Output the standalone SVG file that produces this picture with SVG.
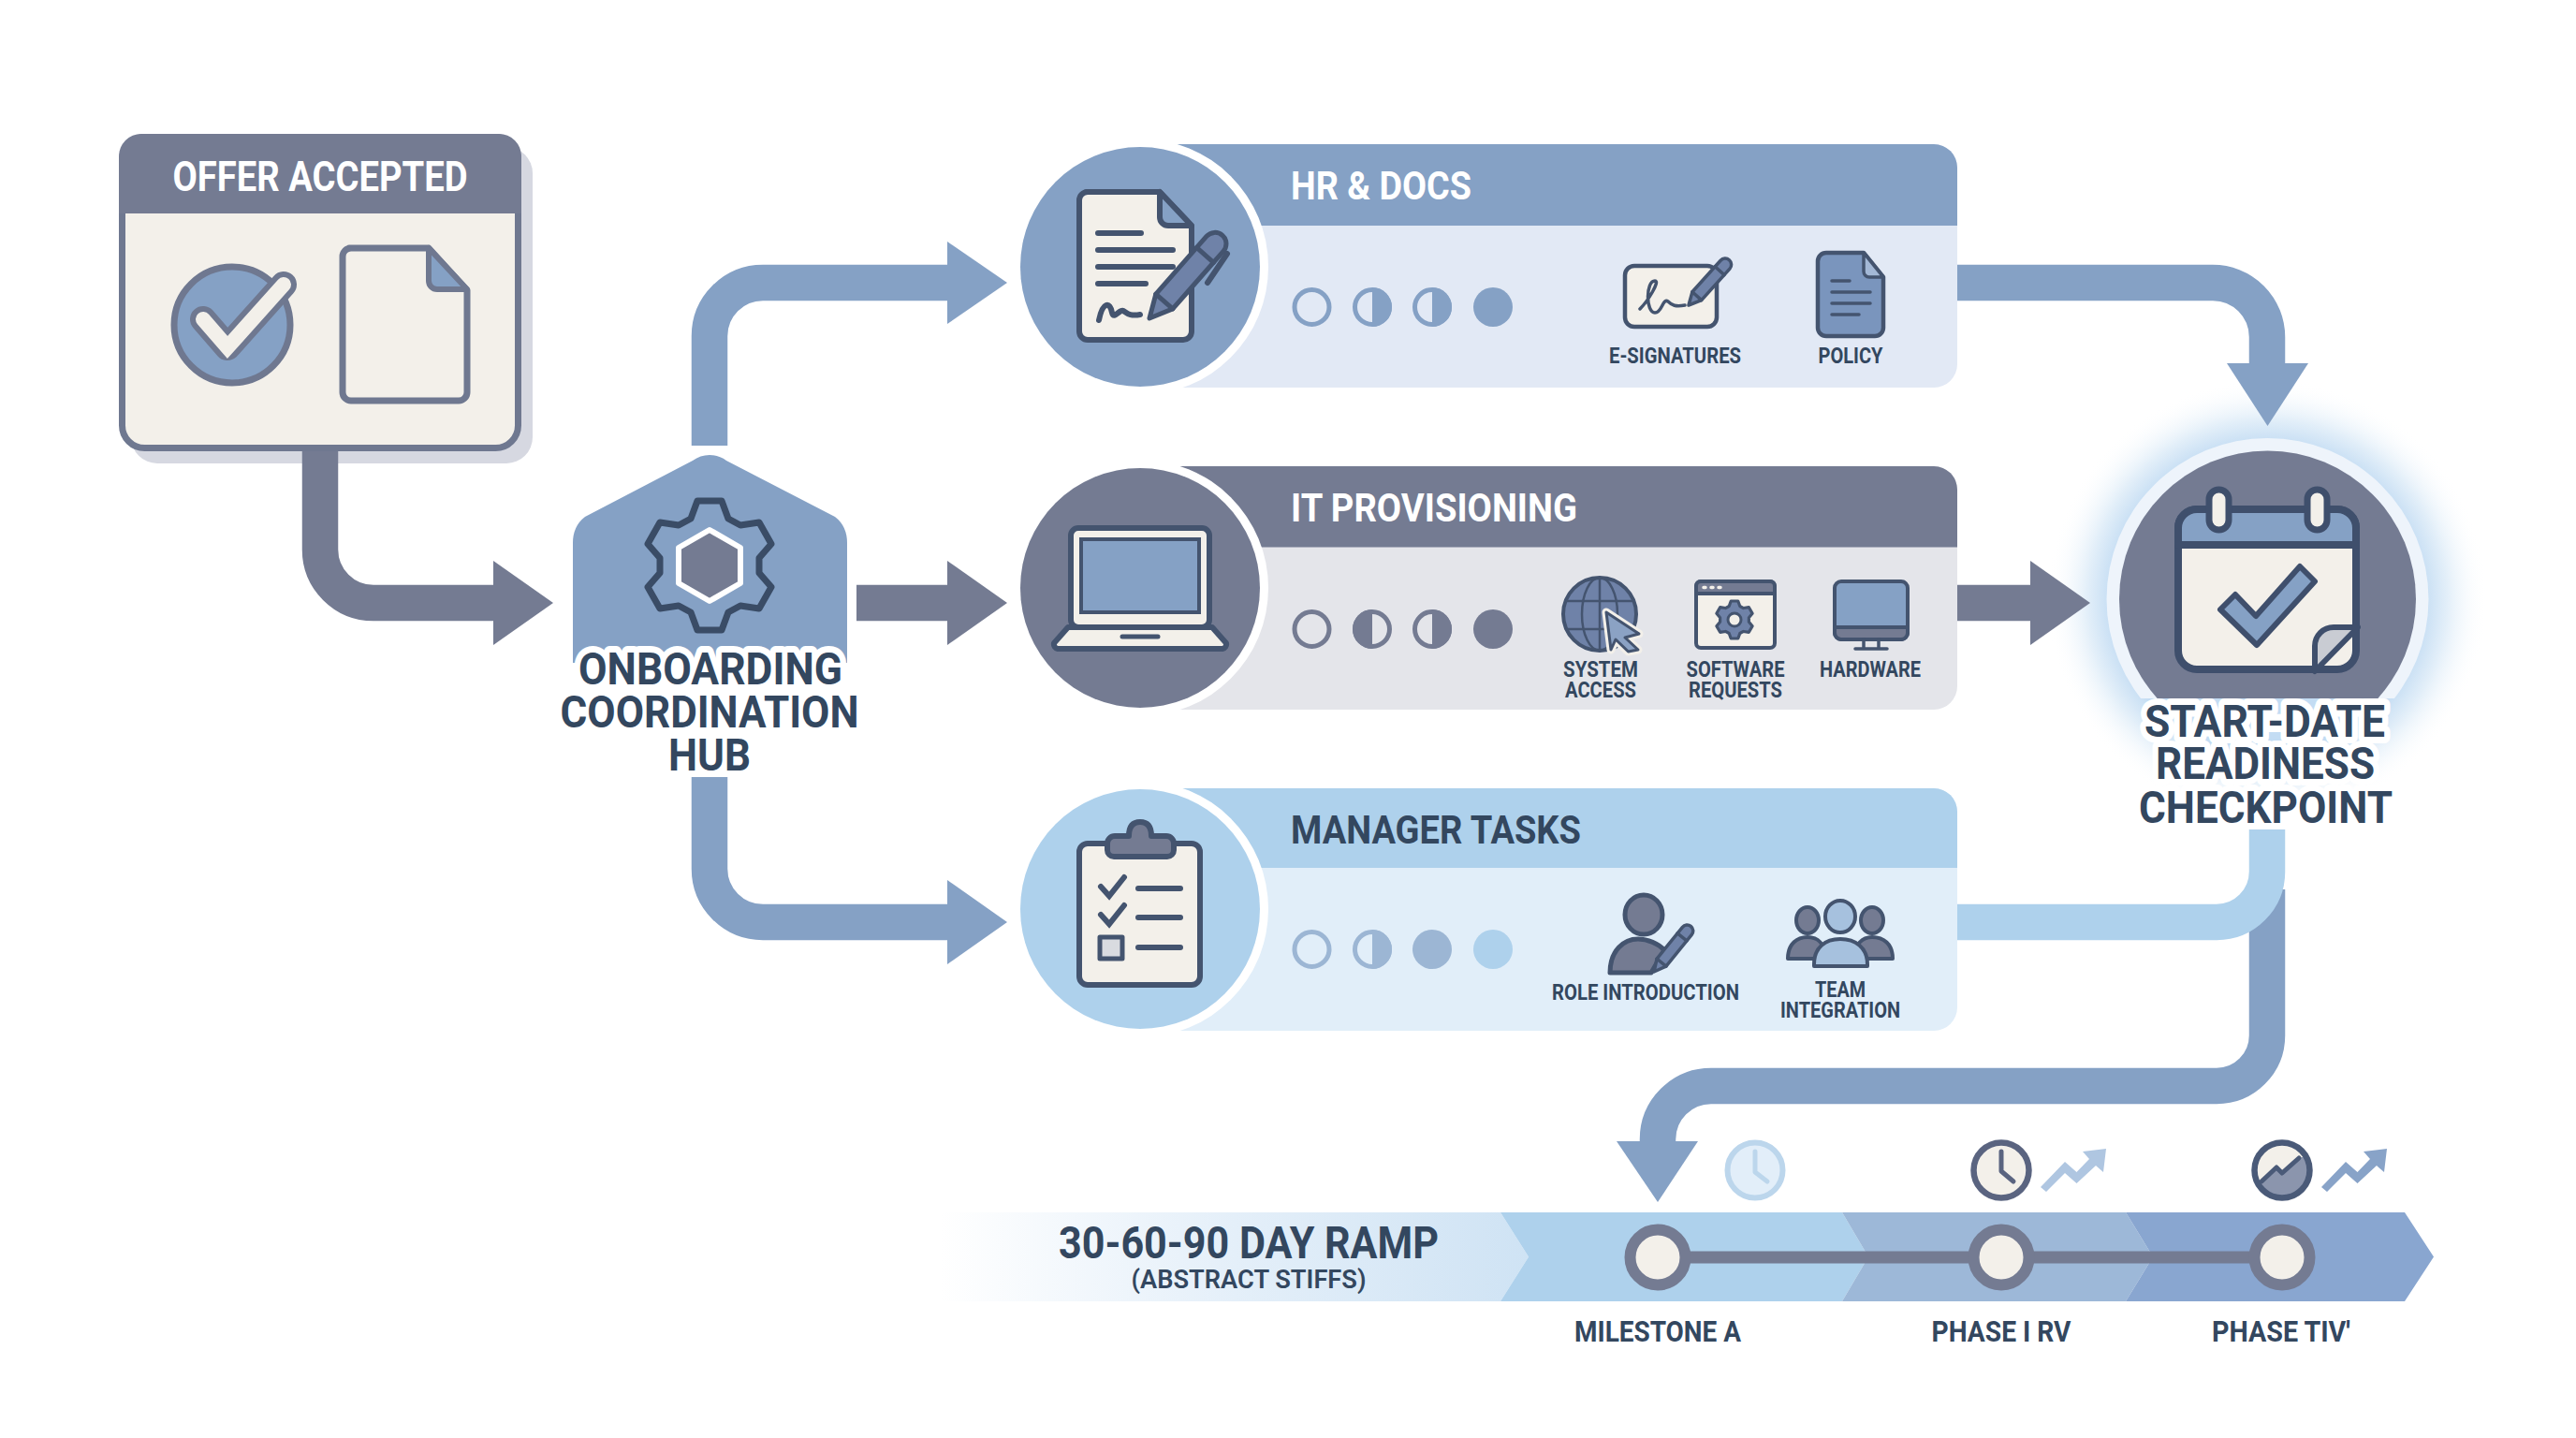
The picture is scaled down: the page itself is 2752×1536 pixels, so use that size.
<svg xmlns="http://www.w3.org/2000/svg" width="2752" height="1536" viewBox="0 0 2752 1536">
<style>
text{font-family:Roboto,"Liberation Sans",sans-serif;font-weight:700;fill:#33475f}
.mid{text-anchor:middle}
.halo{paint-order:stroke;stroke:#fff;stroke-width:14px;stroke-linejoin:round}
.white{fill:#fff}
.big{font-size:49px}
.title{font-size:42px}
.small{font-size:23px}
.line{fill:none;stroke-width:38.5;stroke-linejoin:round}
.slate{stroke:#747b92}.blue{stroke:#85a1c5}.sky{stroke:#aed1ec}
.fslate{fill:#747b92}.fblue{fill:#85a1c5}.fsky{fill:#aed1ec}
.ic{stroke:#44546f;stroke-width:6;stroke-linejoin:round;stroke-linecap:round}
.ns{stroke:#44546f;stroke-linejoin:round;stroke-linecap:round;vector-effect:non-scaling-stroke}
.cream{fill:#f3f0ea}
.lane{fill:none;stroke:#44546f;stroke-width:6;stroke-linecap:round}
</style>
<defs>
<linearGradient id="fade" gradientUnits="userSpaceOnUse" x1="1005" y1="0" x2="1633" y2="0"><stop offset="0" stop-color="#fff"/><stop offset="0.5" stop-color="#e4eff9"/><stop offset="1" stop-color="#cfe3f4"/></linearGradient>
<radialGradient id="glow" gradientUnits="userSpaceOnUse" cx="2422" cy="640" r="235"><stop offset="0.7" stop-color="#c3dcf3"/><stop offset="0.82" stop-color="#e3eff9"/><stop offset="1" stop-color="#fff" stop-opacity="0"/></radialGradient>
<clipPath id="cut"><rect x="2200" y="440" width="450" height="306"/></clipPath>
<clipPath id="clock3"><circle cx="2438" cy="1250" r="30"/></clipPath>
<g id="pencil"><path class="ns" d="M0 0L24 -12H106a12 12 0 0 1 0 24H24Z" fill="#6f82a8"/><path class="ns" d="M24 -12V12M90 -12V12" fill="none"/></g>
<polygon id="gear" points="-20,-50 -13,-69 13,-69 20,-50 33,-43 53,-46 66,-23 53,-8 53,8 66,23 53,46 33,43 20,50 13,69 -13,69 -20,50 -33,43 -53,46 -66,23 -53,8 -53,-8 -66,-23 -53,-46 -33,-43"/>
</defs>
<rect width="2752" height="1536" fill="#fff"/>

<rect x="140" y="157" width="429" height="338" rx="28" fill="#d6d8e1"/>
<circle id="checkpoint-glow" cx="2422" cy="640" r="235" fill="url(#glow)"/>

<g id="connectors">
<path class="line slate" d="M342 470V587A57 57 0 0 0 399 644H530"/><polygon class="fslate" points="527,599 591,644 527,689"/>
<path class="line blue" d="M758 476V359A57 57 0 0 1 815 302H1015"/><polygon class="fblue" points="1012,258 1076,302 1012,346"/>
<path class="line slate" d="M915 644H1015"/><polygon class="fslate" points="1012,599 1076,644 1012,689"/>
<path class="line blue" d="M758 830V928A57 57 0 0 0 815 985H1015"/><polygon class="fblue" points="1012,940 1076,985 1012,1030"/>
<path class="line blue" d="M2085 302H2364A58 58 0 0 1 2422 360V392"/><polygon class="fblue" points="2379,388 2466,388 2422.5,455"/>
<path class="line slate" d="M2085 644H2172"/><polygon class="fslate" points="2169,599 2233,644 2169,689"/>
<path class="line blue" d="M2422 950V1106A54 54 0 0 1 2368 1160H1828A57 57 0 0 0 1771 1217V1224"/><polygon class="fblue" points="1727,1219 1814,1219 1771,1284"/>
<path class="line sky" d="M2085 985H2368A54 54 0 0 0 2422 931V886"/>
</g>

<g id="offer-accepted">
<rect x="130.500" y="146.500" width="423" height="332" rx="24" class="cream" stroke="#6f7890" stroke-width="7"/>
<path d="M151 143H533a24 24 0 0 1 24 24V228H127V167a24 24 0 0 1 24-24Z" class="fslate"/>
<text x="342" y="204" class="mid white" font-size="44" textLength="315" lengthAdjust="spacingAndGlyphs">OFFER ACCEPTED</text>
<circle cx="248" cy="347" r="62" class="fblue" stroke="#6f7890" stroke-width="7"/>
<polyline points="217,341 243,371 303,304" fill="none" stroke="#6f7890" stroke-width="28" stroke-linejoin="round" stroke-linecap="round"/>
<polyline points="217,341 243,371 303,304" fill="none" stroke="#f3f0ea" stroke-width="16" stroke-linejoin="miter" stroke-linecap="round"/>
<path d="M373 265H458L499 310V419a9 9 0 0 1 -9 9H375a9 9 0 0 1 -9 -9V274a9 9 0 0 1 9 -9Z" class="cream" stroke="#6f7890" stroke-width="7" stroke-linejoin="round"/>
<path d="M458 265V300a9 9 0 0 0 9 9H499Z" class="fblue" stroke="#6f7890" stroke-width="6" stroke-linejoin="round"/>
</g>

<g id="coordination-hub">
<path d="M758 486Q768 486 776 492L892 552Q905 562 905 580V708H612V580Q612 562 625 552L740 492Q748 486 758 486Z" class="fblue"/>
<use href="#gear" transform="translate(758 604)" class="fblue" stroke="#3a4c66" stroke-width="7" stroke-linejoin="round"/>
<polygon points="758,566 791,585 791,623 758,642 725,623 725,585" class="fslate" stroke="#fff" stroke-width="6" stroke-linejoin="round"/>
<text class="mid big halo"><tspan x="759" y="731" textLength="282" lengthAdjust="spacingAndGlyphs">ONBOARDING</tspan><tspan x="758" y="777" textLength="319" lengthAdjust="spacingAndGlyphs">COORDINATION</tspan><tspan x="758" y="823" textLength="88" lengthAdjust="spacingAndGlyphs">HUB</tspan></text>
</g>

<g id="hr-docs">
<rect x="1230" y="154" width="861" height="260" rx="25" fill="#e2e9f5"/>
<path d="M1230 154H2066a25 25 0 0 1 25 25V241H1230Z" class="fblue"/>
<circle cx="1218" cy="285" r="137" fill="#fff"/><circle cx="1218" cy="285" r="128" class="fblue"/>
<text x="1379" y="213" class="white title" textLength="193" lengthAdjust="spacingAndGlyphs">HR &amp; DOCS</text>
<path d="M1160 205H1239L1273 241V354a9 9 0 0 1 -9 9H1162a9 9 0 0 1 -9 -9V214a9 9 0 0 1 9 -9Z" class="cream ic"/>
<path d="M1239 205V232a9 9 0 0 0 9 9H1273Z" class="fblue ic"/>
<path class="lane" d="M1173 249H1219M1173 267H1253M1173 285H1253M1173 303H1224"/>
<path class="lane" stroke-width="5" d="M1174 342C1178 322 1186 322 1188 334C1190 342 1196 330 1200 332C1204 334 1206 338 1218 336"/>
<use href="#pencil" transform="translate(1228 340) rotate(-48.700)" stroke-width="5"/>
<path class="lane" d="M1290 302L1311 271"/>
<circle cx="1401.500" cy="328" r="18.500" fill="none" stroke="#85a1c5" stroke-width="5"/>
<circle cx="1466" cy="328" r="18.500" fill="none" stroke="#85a1c5" stroke-width="5"/><path d="M1466 307a21 21 0 0 1 0 42Z" class="fblue"/>
<circle cx="1530" cy="328" r="18.500" fill="none" stroke="#85a1c5" stroke-width="5"/><path d="M1530 307a21 21 0 0 1 0 42Z" class="fblue"/>
<circle cx="1595" cy="328" r="21" class="fblue"/>
<rect x="1736" y="284" width="98" height="65" rx="10" class="cream ic" style="stroke-width:4.500"/>
<path d="M1752 330C1760 322 1774 300 1768 300C1758 300 1758 334 1768 334C1776 334 1776 318 1782 322C1786 326 1790 328 1800 326" fill="none" class="ic" style="stroke-width:3.500"/>
<use href="#pencil" transform="translate(1804 326) rotate(-48) scale(0.55)" stroke-width="3.500"/>
<path d="M1952 270H1991L2012 296V350a9 9 0 0 1 -9 9H1951a9 9 0 0 1 -9 -9V279a9 9 0 0 1 9 -9Z" fill="#7a95bd" class="ic" style="stroke-width:4.500"/>
<path d="M1991 270V290a6 6 0 0 0 6 6H2012Z" fill="#a3b8d6" class="ic" style="stroke-width:3.500"/>
<path class="lane" style="stroke-width:3.500" d="M1957 300H1976M1957 312H1998M1957 324H1998M1957 336H1986"/>
<text x="1789.500" y="388" class="mid small" textLength="141" lengthAdjust="spacingAndGlyphs">E-SIGNATURES</text>
<text x="1977" y="388" class="mid small" textLength="69" lengthAdjust="spacingAndGlyphs">POLICY</text>
</g>

<g id="it-provisioning">
<rect x="1230" y="498" width="861" height="260" rx="25" fill="#e4e5ea"/>
<path d="M1230 498H2066a25 25 0 0 1 25 25V584.500H1230Z" class="fslate"/>
<circle cx="1218" cy="628" r="137" fill="#fff"/><circle cx="1218" cy="628" r="128" class="fslate"/>
<text x="1379" y="557" class="white title" textLength="306" lengthAdjust="spacingAndGlyphs">IT PROVISIONING</text>
<rect x="1144" y="564" width="148" height="106" rx="8" class="cream ic"/>
<rect x="1155" y="576" width="126" height="78" class="fblue" stroke="#44546f" stroke-width="4"/>
<path d="M1141 670H1295L1310 687a5 5 0 0 1 -4 6H1130a5 5 0 0 1 -4 -6Z" class="cream ic"/>
<path class="lane" style="stroke-width:5" d="M1199 680H1237"/>
<circle cx="1401.500" cy="672" r="18.500" fill="none" stroke="#747b92" stroke-width="5"/>
<circle cx="1466" cy="672" r="18.500" fill="none" stroke="#747b92" stroke-width="5"/><path d="M1466 651a21 21 0 0 0 0 42Z" class="fslate"/>
<circle cx="1530" cy="672" r="18.500" fill="none" stroke="#747b92" stroke-width="5"/><path d="M1530 651a21 21 0 0 1 0 42Z" class="fslate"/>
<circle cx="1595" cy="672" r="21" class="fslate"/>
<circle cx="1709" cy="656" r="39" fill="#6f82a8" class="ic" style="stroke-width:4"/>
<path fill="none" class="ic" style="stroke-width:2.500" d="M1709 617V695M1673 642H1745M1673 672H1745"/>
<ellipse cx="1709" cy="656" rx="19" ry="39" fill="none" class="ic" style="stroke-width:2.500"/>
<polygon points="1716,654 1751,677 1736,681 1750,694 1739.500,696 1726,683 1721,694" fill="#8ba2c4" stroke="#f3f0ea" stroke-width="9" stroke-linejoin="round"/>
<polygon points="1716,654 1751,677 1736,681 1750,694 1739.500,696 1726,683 1721,694" fill="#8ba2c4" class="ic" style="stroke-width:3"/>
<rect x="1812" y="621" width="84" height="71" rx="5" class="cream ic" style="stroke-width:4"/>
<path d="M1812 634V626a5 5 0 0 1 5 -5H1891a5 5 0 0 1 5 5V634Z" class="fslate ic" style="stroke-width:4"/>
<path d="M1820 627.500h2M1828 627.500h2M1836 627.500h2" stroke="#f3f0ea" stroke-width="3.500" stroke-linecap="round"/>
<use href="#gear" transform="translate(1853 662) scale(0.29)" fill="#6f82a8" stroke="#44546f" stroke-width="11" stroke-linejoin="round"/>
<circle cx="1853" cy="662" r="7" class="cream" stroke="#44546f" stroke-width="3"/>
<rect x="1960" y="621" width="78" height="62" rx="7" class="fblue ic" style="stroke-width:4"/>
<path d="M1960 670H2038V676a7 7 0 0 1 -7 7H1967a7 7 0 0 1 -7 -7Z" class="fslate ic" style="stroke-width:4"/>
<path class="lane" style="stroke-width:3.500" d="M1991 683V693M2007 683V693M1982 693H2016"/>
<text x="1710" y="723" class="mid small" textLength="80" lengthAdjust="spacingAndGlyphs"><tspan>SYSTEM</tspan></text>
<text x="1710" y="745" class="mid small" textLength="76" lengthAdjust="spacingAndGlyphs">ACCESS</text>
<text x="1854" y="723" class="mid small" textLength="105" lengthAdjust="spacingAndGlyphs">SOFTWARE</text>
<text x="1854" y="745" class="mid small" textLength="100" lengthAdjust="spacingAndGlyphs">REQUESTS</text>
<text x="1998" y="723" class="mid small" textLength="108" lengthAdjust="spacingAndGlyphs">HARDWARE</text>
</g>

<g id="manager-tasks">
<rect x="1230" y="842" width="861" height="259" rx="25" fill="#e1eef9"/>
<path d="M1230 842H2066a25 25 0 0 1 25 25V927H1230Z" class="fsky"/>
<circle cx="1218" cy="971" r="137" fill="#fff"/><circle cx="1218" cy="971" r="128" class="fsky"/>
<text x="1379" y="901" class="title" textLength="310" lengthAdjust="spacingAndGlyphs">MANAGER TASKS</text>
<rect x="1153" y="901" width="129" height="151" rx="9" class="cream ic"/>
<path d="M1206 893C1206 884 1209 878 1218 878C1227 878 1230 884 1230 893H1246a8 8 0 0 1 8 8V908a7 7 0 0 1 -7 7H1190a7 7 0 0 1 -7 -7V901a8 8 0 0 1 8 -8Z" class="fslate ic"/>
<path class="lane" d="M1176 947L1185 957L1201 937M1176 977L1185 987L1201 967M1216 949H1261M1216 980H1261M1216 1012H1261"/>
<rect x="1175" y="1001" width="24" height="23" class="ic" fill="#d9dbe0" style="stroke-width:5"/>
<circle cx="1401.500" cy="1014" r="18.500" fill="none" stroke="#9cb6d4" stroke-width="5"/>
<circle cx="1466" cy="1014" r="18.500" fill="none" stroke="#9cb6d4" stroke-width="5"/><path d="M1466 993a21 21 0 0 1 0 42Z" fill="#9cb6d4"/>
<circle cx="1530" cy="1014" r="21" fill="#9cb6d4"/>
<circle cx="1595" cy="1014" r="21" class="fsky"/>
<ellipse cx="1756" cy="977" rx="20" ry="21" class="fslate ic" style="stroke-width:5"/>
<path d="M1720 1039C1720 1015 1735 1003 1750 1003C1760 1003 1772 1008 1778 1015L1764 1039Z" class="fslate ic" style="stroke-width:5"/>
<use href="#pencil" transform="translate(1767 1038) rotate(-51) scale(0.53)" stroke-width="3.500"/>
<ellipse cx="1931" cy="983" rx="12" ry="14" class="fslate ic" style="stroke-width:4"/>
<ellipse cx="2000" cy="983" rx="12" ry="14" class="fslate ic" style="stroke-width:4"/>
<path d="M1910 1024C1910 1008 1920 1001 1931 1001C1942 1001 1950 1008 1950 1024Z" class="fslate ic" style="stroke-width:4"/>
<path d="M1981 1024C1981 1008 1990 1001 2000 1001C2012 1001 2022 1008 2022 1024Z" class="fslate ic" style="stroke-width:4"/>
<ellipse cx="1966" cy="979" rx="16" ry="17" fill="#a6c1de" class="ic" style="stroke-width:4"/>
<path d="M1938 1032V1030C1938 1012 1950 1003 1966 1003C1982 1003 1995 1012 1995 1030V1032Z" fill="#a6c1de" class="ic" style="stroke-width:4"/>
<text x="1758" y="1068" class="mid small" textLength="200" lengthAdjust="spacingAndGlyphs">ROLE INTRODUCTION</text>
<text x="1966" y="1065" class="mid small" textLength="54" lengthAdjust="spacingAndGlyphs">TEAM</text>
<text x="1966" y="1087" class="mid small" textLength="128" lengthAdjust="spacingAndGlyphs">INTEGRATION</text>
</g>

<g id="readiness-checkpoint">
<g clip-path="url(#cut)">
<circle cx="2422.500" cy="640" r="172" fill="#eef4fb"/>
<circle cx="2422.500" cy="640" r="158.500" class="fslate"/>
</g>
<rect x="2327" y="544" width="190" height="171" rx="20" class="cream" stroke="#3f4f6c" stroke-width="8"/>
<path d="M2347 544H2497a20 20 0 0 1 20 20V582H2327V564a20 20 0 0 1 20 -20Z" class="fblue" stroke="#3f4f6c" stroke-width="8" stroke-linejoin="round"/>
<rect x="2360" y="523" width="21" height="43" rx="10.500" class="cream" stroke="#3f4f6c" stroke-width="7"/>
<rect x="2465" y="523" width="21" height="43" rx="10.500" class="cream" stroke="#3f4f6c" stroke-width="7"/>
<polygon points="2372,651 2388,635 2410,658 2457,605 2473,621 2411,689" class="fblue" stroke="#3f4f6c" stroke-width="6" stroke-linejoin="round"/>
<path d="M2473 717V690a20 20 0 0 1 20 -20H2519Z" fill="#c9ccd3" stroke="#3f4f6c" stroke-width="6" stroke-linejoin="round"/>
<text class="mid big halo"><tspan x="2419.500" y="787" textLength="257" lengthAdjust="spacingAndGlyphs">START-DATE</tspan><tspan x="2420" y="832" textLength="234" lengthAdjust="spacingAndGlyphs">READINESS</tspan><tspan x="2420.500" y="879" textLength="271" lengthAdjust="spacingAndGlyphs">CHECKPOINT</tspan></text>
</g>

<g id="ramp-timeline">
<polygon points="1005,1295 1603,1295 1633,1342.500 1603,1390 1005,1390" fill="url(#fade)"/>
<polygon points="1603,1295 1968,1295 1996,1342.500 1968,1390 1603,1390 1633,1342.500" class="fsky"/>
<polygon points="1968,1295 2271,1295 2300,1342.500 2271,1390 1968,1390 1996,1342.500" fill="#9db8d8"/>
<polygon points="2271,1295 2569,1295 2600,1342.500 2569,1390 2271,1390 2300,1342.500" fill="#89a6d0"/>
<path d="M1771 1343H2438" stroke="#747b92" stroke-width="13"/>
<g class="cream" stroke="#747b92" stroke-width="12">
<circle cx="1771" cy="1343" r="29.500"/><circle cx="2138" cy="1343" r="29.500"/><circle cx="2438" cy="1343" r="29.500"/>
</g>
<text class="mid"><tspan x="1334" y="1344" font-size="48" textLength="406" lengthAdjust="spacingAndGlyphs">30-60-90 DAY RAMP</tspan><tspan x="1334" y="1376" font-size="27" textLength="251" lengthAdjust="spacingAndGlyphs" style="font-weight:600">(ABSTRACT STIFFS)</tspan></text>
<text x="1771" y="1433" class="mid" font-size="31" textLength="178" lengthAdjust="spacingAndGlyphs">MILESTONE A</text>
<text x="2138" y="1433" class="mid" font-size="31" textLength="149" lengthAdjust="spacingAndGlyphs">PHASE I RV</text>
<text x="2437" y="1433" class="mid" font-size="31" textLength="148" lengthAdjust="spacingAndGlyphs">PHASE TIV'</text>
<circle cx="1875" cy="1250" r="29.500" fill="#e2eef9" stroke="#bcd6ec" stroke-width="6"/>
<path d="M1875 1230V1252L1888 1262" fill="none" stroke="#bcd6ec" stroke-width="5" stroke-linecap="round" stroke-linejoin="round"/>
<circle cx="2138" cy="1250" r="29.500" class="cream" stroke="#5a6480" stroke-width="6.500"/>
<path d="M2138 1230V1251L2151 1262" fill="none" stroke="#5a6480" stroke-width="5" stroke-linecap="round" stroke-linejoin="round"/>
<polygon points="2180,1268 2206,1241 2218.500,1252 2232,1238 2225,1230 2250,1227 2247,1252 2239,1245 2218.500,1264 2206,1253 2186,1273" fill="#afc6e1"/>
<circle cx="2438" cy="1250" r="29.500" class="cream"/>
<path clip-path="url(#clock3)" d="M2416 1262L2432 1247L2438 1253L2456 1237L2480 1230V1290H2400V1275Z" fill="#8b95ad"/>
<path d="M2416 1262L2432 1247L2438 1253L2456 1237" fill="none" stroke="#4a5a78" stroke-width="5" stroke-linecap="round" stroke-linejoin="round"/>
<circle cx="2438" cy="1250" r="29.500" fill="none" stroke="#4a5a78" stroke-width="6.500"/>
<polygon points="2480,1268 2506,1241 2518.500,1252 2532,1238 2525,1230 2550,1227 2547,1252 2539,1245 2518.500,1264 2506,1253 2486,1273" fill="#88a3c8"/>
</g>
</svg>
